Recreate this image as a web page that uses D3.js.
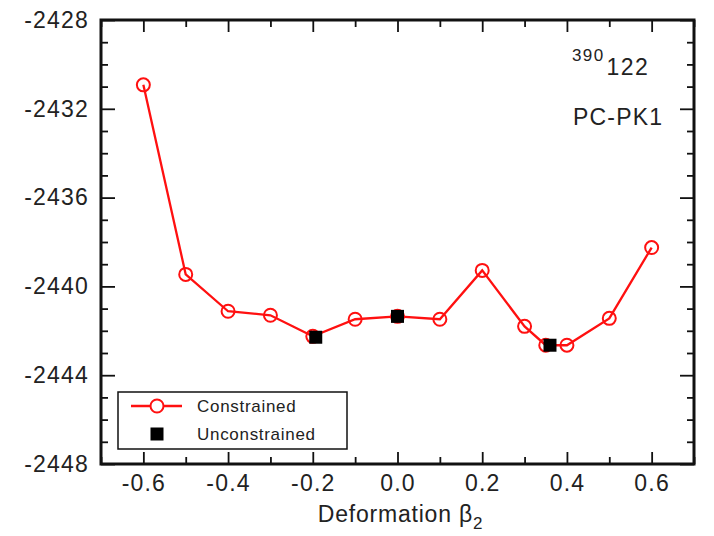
<!DOCTYPE html>
<html>
<head>
<meta charset="utf-8">
<script src="https://cdn.jsdelivr.net/npm/d3@7"></script>
<style>
  body { margin: 0; background: #fff; }
  text { font-family: "Liberation Sans", Arial, sans-serif; fill: #222; }
</style>
</head>
<body>
<div id="chart"></div>
<script>
// constrained PC-PK1 energies vs beta2
var betaC = [-0.6, -0.5, -0.4, -0.3, -0.2, -0.1, 0.0, 0.1, 0.2, 0.3, 0.35, 0.4, 0.5, 0.6];
var energyC = [-2430.92, -2439.46, -2441.12, -2441.30, -2442.25, -2441.48, -2441.35,
               -2441.48, -2439.28, -2441.80, -2442.65, -2442.65, -2441.44, -2438.25];
// unconstrained minima
var betaU = [-0.193, 0.0, 0.36];
var energyU = [-2442.29, -2441.35, -2442.65];

var xMajor = [-0.6, -0.4, -0.2, 0.0, 0.2, 0.4, 0.6];
var xMinor = [-0.7, -0.5, -0.3, -0.1, 0.1, 0.3, 0.5, 0.7];
var yMajor = [-2448, -2444, -2440, -2436, -2432, -2428];
var yMinor = d3.range(-2447, -2428, 1).filter(function(v) { return v % 4 !== 0; });

var width = 714, height = 536;
var margin = {top: 20, right: 20, bottom: 72, left: 101};

var svg = d3.select("#chart").append("svg")
    .attr("width", width)
    .attr("height", height);

var x = d3.scaleLinear().domain([-0.7, 0.7]).range([margin.left, width - margin.right]);
var y = d3.scaleLinear().domain([-2448, -2428]).range([height - margin.bottom, margin.top]);

var x0 = x.range()[0], x1 = x.range()[1], y0 = y.range()[0], y1 = y.range()[1];

// plain hyphen instead of unicode minus
function hy(fmt) {
    var f = d3.format(fmt);
    return function(d) { return f(d).replace("\u2212", "-"); };
}

function styleAxis(g) {
    g.select(".domain").remove();
    g.selectAll(".tick line").attr("stroke", "#111").attr("stroke-width", 1.8);
    g.selectAll(".tick text")
        .style("font-family", "'Liberation Sans', Arial, sans-serif")
        .style("font-size", "23px")
        .style("letter-spacing", "1.2px")
        .attr("fill", "#222");
}

// minor ticks
svg.append("g").attr("transform", "translate(0," + y0 + ")")
    .call(d3.axisBottom(x).tickValues(xMinor).tickSize(-7).tickFormat(""))
    .call(styleAxis);
svg.append("g").attr("transform", "translate(0," + y1 + ")")
    .call(d3.axisTop(x).tickValues(xMinor).tickSize(-7).tickFormat(""))
    .call(styleAxis);
svg.append("g").attr("transform", "translate(" + x0 + ",0)")
    .call(d3.axisLeft(y).tickValues(yMinor).tickSize(-7).tickFormat(""))
    .call(styleAxis);
svg.append("g").attr("transform", "translate(" + x1 + ",0)")
    .call(d3.axisRight(y).tickValues(yMinor).tickSize(-7).tickFormat(""))
    .call(styleAxis);

// major ticks
svg.append("g").attr("transform", "translate(0," + y0 + ")")
    .call(d3.axisBottom(x).tickValues(xMajor).tickSize(-12).tickPadding(11).tickFormat(hy(".1f")))
    .call(styleAxis);
svg.append("g").attr("transform", "translate(0," + y1 + ")")
    .call(d3.axisTop(x).tickValues(xMajor).tickSize(-12).tickFormat(""))
    .call(styleAxis);
svg.append("g").attr("transform", "translate(" + x0 + ",0)")
    .call(d3.axisLeft(y).tickValues(yMajor).tickSize(-14).tickPadding(12).tickFormat(hy("d")))
    .call(styleAxis);
svg.append("g").attr("transform", "translate(" + x1 + ",0)")
    .call(d3.axisRight(y).tickValues(yMajor).tickSize(-14).tickFormat(""))
    .call(styleAxis);

// frame
svg.append("rect")
    .attr("x", x0).attr("y", y1)
    .attr("width", x1 - x0).attr("height", y0 - y1)
    .attr("fill", "none")
    .attr("stroke", "#111")
    .attr("stroke-width", 3);

// constrained curve
var line = d3.line()
    .x(function(d, i) { return x(betaC[i]); })
    .y(function(d) { return y(d); });

svg.append("path")
    .datum(energyC)
    .attr("d", line)
    .attr("fill", "none")
    .attr("stroke", "#ff1010")
    .attr("stroke-width", 2.3);

svg.selectAll(".pc")
    .data(energyC)
    .enter().append("circle")
    .attr("class", "pc")
    .attr("cx", function(d, i) { return x(betaC[i]); })
    .attr("cy", function(d) { return y(d); })
    .attr("r", 6.5)
    .attr("fill", "none")
    .attr("stroke", "#ff1010")
    .attr("stroke-width", 2);

var sq = 13;
svg.selectAll(".pu")
    .data(energyU)
    .enter().append("rect")
    .attr("class", "pu")
    .attr("x", function(d, i) { return x(betaU[i]) - sq / 2; })
    .attr("y", function(d) { return y(d) - sq / 2; })
    .attr("width", sq).attr("height", sq)
    .attr("fill", "#000");

// legend
var leg = svg.append("g").attr("transform", "translate(118,392)");
leg.append("rect")
    .attr("width", 229).attr("height", 57)
    .attr("fill", "#fff").attr("stroke", "#111").attr("stroke-width", 1.5);
leg.append("line")
    .attr("x1", 13).attr("x2", 64).attr("y1", 14).attr("y2", 14)
    .attr("stroke", "#ff1010").attr("stroke-width", 2.3);
leg.append("circle")
    .attr("cx", 39).attr("cy", 14).attr("r", 6.5)
    .attr("fill", "#fff").attr("stroke", "#ff1010").attr("stroke-width", 2);
leg.append("rect")
    .attr("x", 39 - sq / 2).attr("y", 42 - sq / 2).attr("width", sq).attr("height", sq)
    .attr("fill", "#000");
leg.append("text").attr("x", 79).attr("y", 20)
    .style("font-size", "17px").style("letter-spacing", "0.7px")
    .text("Constrained");
leg.append("text").attr("x", 79).attr("y", 48)
    .style("font-size", "17px").style("letter-spacing", "0.7px")
    .text("Unconstrained");

// annotation
var ann = svg.append("text").attr("x", 572).attr("y", 75)
    .style("font-size", "23px").style("letter-spacing", "1.4px");
ann.append("tspan").attr("dy", -14).style("font-size", "17px").text("390");
ann.append("tspan").attr("dy", 14).attr("dx", 2).text("122");

svg.append("text").attr("x", 573).attr("y", 125)
    .style("font-size", "23px").style("letter-spacing", "1.2px")
    .text("PC-PK1");

// x-axis title
var xt = svg.append("text")
    .attr("x", (x0 + x1) / 2 + 3).attr("y", 522)
    .attr("text-anchor", "middle")
    .style("font-size", "23px").style("letter-spacing", "0.8px");
xt.append("tspan").text("Deformation \u03b2");
xt.append("tspan").attr("dy", 7).style("font-size", "17px").text("2");
</script>
</body>
</html>
